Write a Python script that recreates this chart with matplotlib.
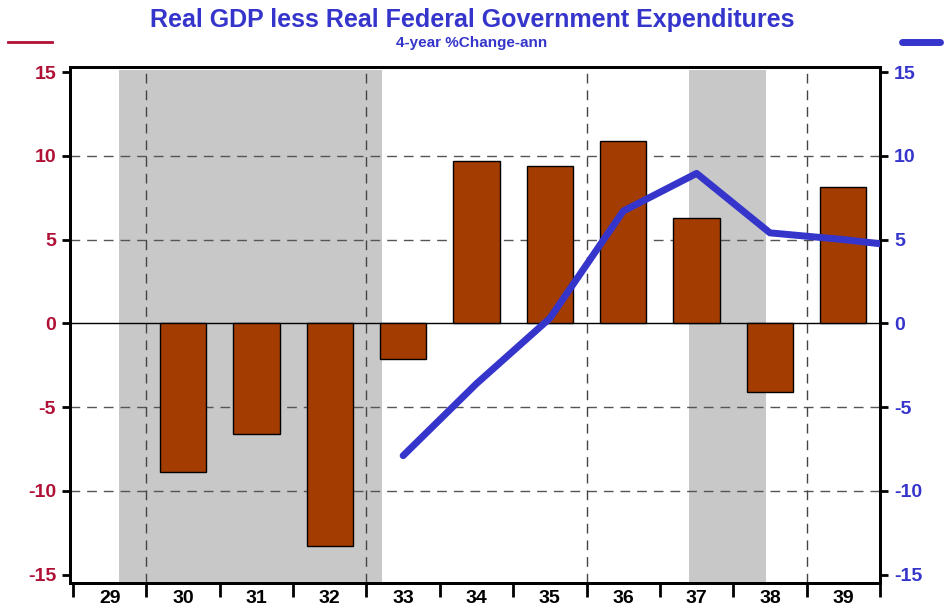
import matplotlib.pyplot as plt
import numpy as np

plt.rcParams['font.family'] = ['Liberation Sans', 'DejaVu Sans']

# annual bars (left axis), year = 1929..1939
bar_years = [1930, 1931, 1932, 1933, 1934, 1935, 1936, 1937, 1938, 1939]
bar_vals = [-8.9, -6.6, -13.3, -2.1, 9.7, 9.4, 10.9, 6.3, -4.1, 8.15]

# 4-year % change, annualized (right axis)
line_years = [1933, 1934, 1935, 1936, 1937, 1938, 1939, 1940]
line_vals = [-7.9, -3.6, 0.3, 6.7, 8.95, 5.4, 5.0, 4.5]

recessions = [(1929.63, 1933.21), (1937.40, 1938.45)]
year_labels = ['29', '30', '31', '32', '33', '34', '35', '36', '37', '38', '39']

red = '#B01035'
blue = '#3535CC'
bar_col = '#A33C00'

fig = plt.figure(figsize=(9.44, 6.09), dpi=100)
ax = fig.add_axes([70 / 944, 26 / 609, 810 / 944, 516 / 609])
ax2 = ax.twinx()

xmin, xmax = 1929 - 3 / 73.3, 1940
ymin, ymax = -15.5, 15.3

for a, b in recessions:
    ax.fill_between([a, b], -15.5, 15.1, color='#C8C8C8', lw=0, zorder=0)

for yv in [-10, -5, 5, 10]:
    ax.axhline(yv, color='#555555', lw=1, ls=(0, (7, 5)), zorder=1)
for xv in [1930, 1933, 1936, 1939]:
    ax.axvline(xv, color='#444444', lw=1, ls=(0, (7, 5)), zorder=1)
ax.axhline(0, color='black', lw=1, zorder=1)

ax.bar([y + 0.5 for y in bar_years], bar_vals, width=0.63, color=bar_col,
       edgecolor='black', lw=1, zorder=2)

ax2.plot([y + 0.5 for y in line_years], line_vals, color=blue, lw=5,
         solid_capstyle='round', zorder=3)

for a in (ax, ax2):
    a.set_xlim(xmin, xmax)
    a.set_ylim(ymin, ymax)
    for s in a.spines.values():
        s.set_linewidth(2)

yt = [-15, -10, -5, 0, 5, 10, 15]
ax.set_yticks(yt)
ax.set_yticklabels([str(v) for v in yt], color=red, fontsize=14, fontweight='bold')
ax2.set_yticks(yt)
ax2.set_yticklabels([str(v) for v in yt], color=blue, fontsize=14, fontweight='bold')
ax.tick_params(axis='y', length=6, width=2, direction='out', pad=4)
ax2.tick_params(axis='y', length=6, width=2, direction='out', pad=4)

ax.set_xticks(np.arange(1929, 1941))
ax.set_xticklabels([])
ax.set_xticks(np.arange(1929, 1940) + 0.5, minor=True)
ax.set_xticklabels(year_labels, minor=True, fontsize=14, fontweight='bold')
ax.tick_params(axis='x', which='major', length=10, width=2, direction='out')
ax.tick_params(axis='x', which='minor', length=0, pad=5)

fig.text(0.5, 0.967, 'Real GDP less Real Federal Government Expenditures',
         ha='center', va='center', color=blue, fontsize=18, fontweight='bold')
fig.text(0.5, 0.929, '4-year %Change-ann', ha='center', va='center',
         color=blue, fontsize=11, fontweight='bold')

fig.add_artist(plt.Line2D([8 / 944, 52 / 944], [1 - 42 / 609] * 2,
                          color=red, lw=2))
fig.add_artist(plt.Line2D([902 / 944, 940 / 944], [1 - 42 / 609] * 2,
                          color=blue, lw=5, solid_capstyle='round'))

plt.savefig('out.png', dpi=100)
plt.close()
